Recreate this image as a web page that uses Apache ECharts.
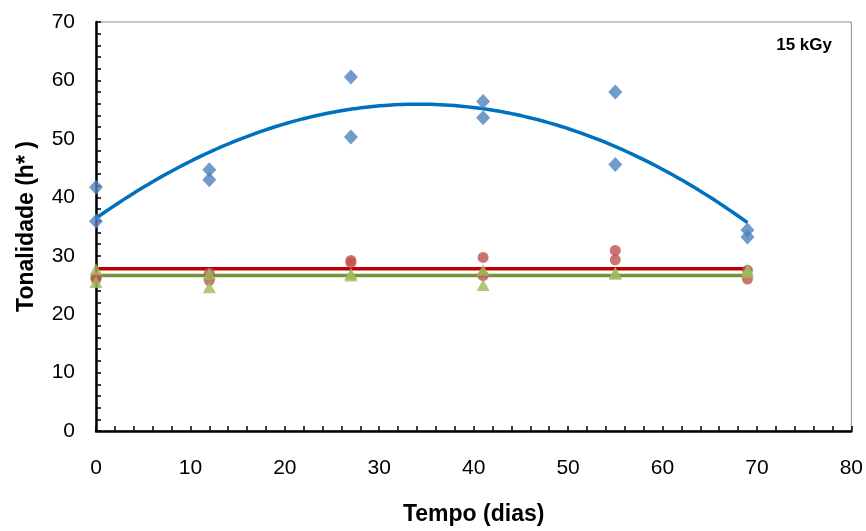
<!DOCTYPE html>
<html>
<head>
<meta charset="utf-8">
<script src="https://cdn.jsdelivr.net/npm/echarts@6/dist/echarts.min.js"></script>
<style>html,body{margin:0;padding:0;background:#fff}#c{width:866px;height:531px}</style>
</head>
<body>
<div id="c"></div>
<script>
// ---- data ----
const days = [0, 0, 12, 12, 27, 27, 41, 41, 55, 55, 69, 69];
const blueValues = [41.7, 35.9, 44.7, 43.0, 60.6, 50.3, 56.4, 53.6, 58.0, 45.6, 34.4, 33.2];
const redValues = [26.3, 26.0, 25.8, 27.0, 28.8, 29.2, 29.7, 26.6, 30.9, 29.3, 26.0, 27.5];
const greenValues = [27.7, 25.5, 26.9, 24.6, 26.6, 26.9, 27.5, 25.0, 26.9, 27.1, 27.2, 27.6];
const xTicks = [0, 10, 20, 30, 40, 50, 60, 70, 80];
const yTicks = [0, 10, 20, 30, 40, 50, 60, 70];
const doseLabel = '15 kGy';

// ---- trend helpers (least squares fits of the data) ----
function polyFit(xs, ys, deg) {
  const n = deg + 1;
  const A = [];
  for (let i = 0; i < n; i++) {
    A.push(new Array(n + 1).fill(0));
  }
  for (let k = 0; k < xs.length; k++) {
    for (let i = 0; i < n; i++) {
      for (let j = 0; j < n; j++) A[i][j] += Math.pow(xs[k], i + j);
      A[i][n] += ys[k] * Math.pow(xs[k], i);
    }
  }
  for (let i = 0; i < n; i++) {
    let p = i;
    for (let r = i + 1; r < n; r++) if (Math.abs(A[r][i]) > Math.abs(A[p][i])) p = r;
    [A[i], A[p]] = [A[p], A[i]];
    for (let r = 0; r < n; r++) {
      if (r === i) continue;
      const f = A[r][i] / A[i][i];
      for (let c = i; c <= n; c++) A[r][c] -= f * A[i][c];
    }
  }
  return A.map((row, i) => row[n] / row[i]);
}
const xMinT = Math.min(...days), xMaxT = Math.max(...days);
function curve(coefs) {
  const pts = [];
  const steps = 140;
  for (let s = 0; s <= steps; s++) {
    const x = xMinT + (xMaxT - xMinT) * s / steps;
    let y = 0;
    coefs.forEach((c, i) => { y += c * Math.pow(x, i); });
    pts.push([x, y]);
  }
  return pts;
}
const blueFit = curve(polyFit(days, blueValues, 2));
const redFit = curve([redValues.reduce((a, b) => a + b, 0) / redValues.length]);
const greenFit = curve([greenValues.reduce((a, b) => a + b, 0) / greenValues.length]);

const pairs = (xs, ys) => xs.map((x, i) => [x, ys[i]]);

const FONT = '"Liberation Sans", Arial, sans-serif';

const chart = echarts.init(document.getElementById('c'), null, { renderer: 'canvas' });
chart.setOption({
  animation: false,
  backgroundColor: '#ffffff',
  grid: { left: 96, right: 14, top: 22, bottom: 94, show: true, borderColor: '#8c8c8c', borderWidth: 1 },
  xAxis: {
    type: 'value', min: xTicks[0], max: xTicks[xTicks.length - 1], interval: 10,
    name: 'Tempo (dias)', nameLocation: 'middle', nameGap: 72,
    nameTextStyle: { fontFamily: FONT, fontWeight: 'bold', fontSize: 23, color: '#000' },
    axisLine: { show: true, onZero: false, lineStyle: { color: '#000', width: 2.5 } },
    axisTick: { show: true, inside: true, length: 5, lineStyle: { color: '#000', width: 1.5 } },
    minorTick: { show: true, splitNumber: 5, length: 5, lineStyle: { color: '#000', width: 1.5 } },
    splitLine: { show: false },
    axisLabel: { margin: 27, fontFamily: FONT, fontSize: 21, color: '#000' }
  },
  yAxis: {
    type: 'value', min: yTicks[0], max: yTicks[yTicks.length - 1], interval: 10,
    name: 'Tonalidade (h* )', nameLocation: 'middle', nameGap: 58,
    nameTextStyle: { fontFamily: FONT, fontWeight: 'bold', fontSize: 23, color: '#000' },
    axisLine: { show: true, onZero: false, lineStyle: { color: '#000', width: 2.5 } },
    axisTick: { show: true, inside: true, length: 5, lineStyle: { color: '#000', width: 1.5 } },
    minorTick: { show: true, splitNumber: 5, length: 5, lineStyle: { color: '#000', width: 1.5 } },
    splitLine: { show: false },
    axisLabel: { margin: 21, fontFamily: FONT, fontSize: 21, color: '#000' }
  },
  graphic: [{
    type: 'text', right: 34, top: 37,
    style: { text: doseLabel, font: 'bold 17px ' + FONT, fill: '#000' }
  }],
  series: [
    { type: 'line', data: blueFit, showSymbol: false, symbol: 'none', smooth: false,
      lineStyle: { color: '#0070C0', width: 3.5 }, z: 2, silent: true },
    { type: 'line', data: redFit, symbol: 'none', lineStyle: { color: '#C00000', width: 3.5 }, z: 2, silent: true },
    { type: 'line', data: greenFit, symbol: 'none', lineStyle: { color: '#77933C', width: 3.5 }, z: 2, silent: true },
    { type: 'scatter', data: pairs(days, blueValues), symbol: 'diamond', symbolSize: [14, 15],
      itemStyle: { color: '#4F81BD' }, z: 3 },
    { type: 'scatter', data: pairs(days, redValues), symbol: 'circle', symbolSize: 11,
      itemStyle: { color: '#C0504D' }, z: 4 },
    { type: 'scatter', data: pairs(days, greenValues), symbol: 'triangle', symbolSize: [13, 12],
      itemStyle: { color: '#9BBB59' }, z: 5 }
  ]
});
</script>
</body>
</html>
